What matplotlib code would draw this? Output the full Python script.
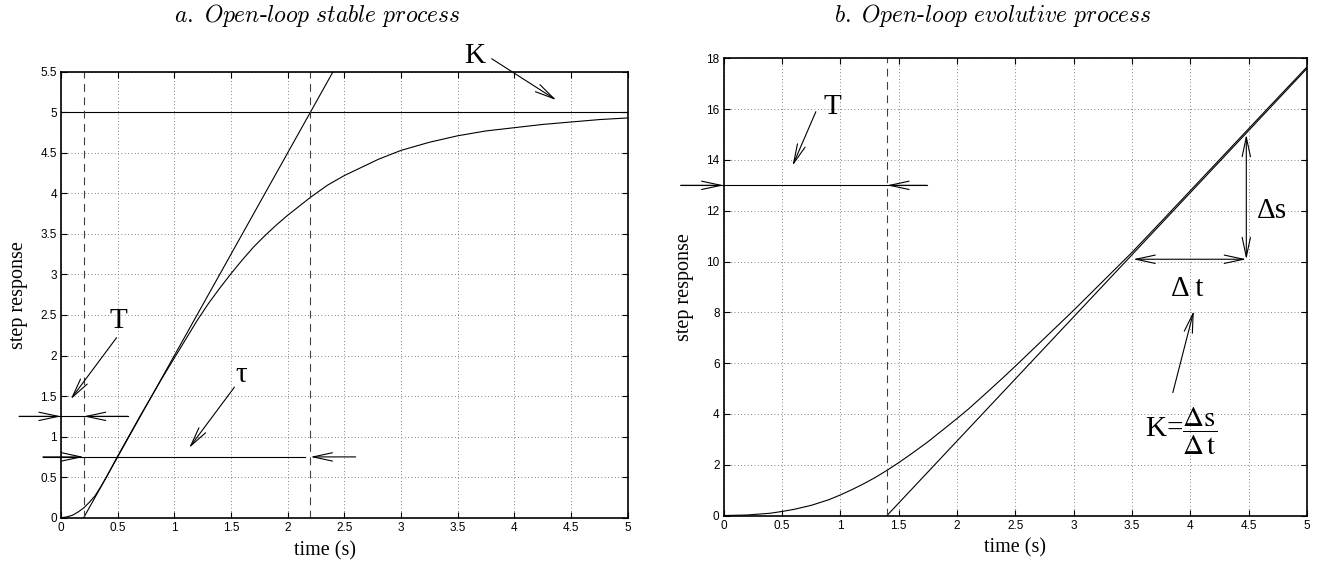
import matplotlib.pyplot as plt

# --- a. open-loop stable process
t_a = [0, 0.05, 0.1, 0.15, 0.2, 0.25, 0.3, 0.35, 0.4, 0.45, 0.5, 0.6, 0.7, 0.8, 0.9,
       1.0, 1.1, 1.2, 1.3, 1.4, 1.5, 1.6, 1.7, 1.8, 1.9, 2.0, 2.1, 2.2, 2.35, 2.5,
       2.65, 2.8, 3.0, 3.25, 3.5, 3.75, 4.0, 4.25, 4.5, 4.75, 5.0]
s_a = [0, 0.01, 0.03, 0.07, 0.12, 0.19, 0.27, 0.38, 0.50, 0.63, 0.76, 1.01, 1.26, 1.50, 1.74,
       1.97, 2.20, 2.43, 2.64, 2.83, 3.01, 3.18, 3.34, 3.48, 3.61, 3.73, 3.84, 3.95, 4.10, 4.22,
       4.32, 4.42, 4.53, 4.63, 4.71, 4.77, 4.81, 4.85, 4.88, 4.91, 4.93]
tangent_a_t = [0.2, 2.4]
tangent_a_s = [0, 5.5]
K_a = 5
T_a = 0.2
tau_end_a = 2.2

# --- b. open-loop evolutive process
t_b = [0, 0.2, 0.4, 0.5, 0.6, 0.75, 0.9, 1.0, 1.1, 1.2, 1.3, 1.4, 1.5, 1.6, 1.75, 1.9,
       2.0, 2.1, 2.25, 2.4, 2.5, 2.75, 3.0, 3.25, 3.5, 3.75, 4.0, 4.25, 4.5, 4.75, 5.0]
s_b = [0, 0.02, 0.09, 0.16, 0.24, 0.40, 0.62, 0.81, 1.02, 1.25, 1.50, 1.78, 2.08, 2.40, 2.90, 3.45,
       3.82, 4.20, 4.82, 5.45, 5.88, 6.98, 8.08, 9.22, 10.36, 11.57, 12.79, 14.01, 15.23, 16.45, 17.66]
tangent_b_t = [1.4, 5.0]
tangent_b_s = [0, 17.6]
T_b = 1.4

xticks = [0, 0.5, 1, 1.5, 2, 2.5, 3, 3.5, 4, 4.5, 5]
xticklabels = ['0', '0.5', '1', '1.5', '2', '2.5', '3', '3.5', '4', '4.5', '5']
yticks_a = [0, 0.5, 1, 1.5, 2, 2.5, 3, 3.5, 4, 4.5, 5, 5.5]
yticklabels_a = ['0', '0.5', '1', '1.5', '2', '2.5', '3', '3.5', '4', '4.5', '5', '5.5']
yticks_b = [0, 2, 4, 6, 8, 10, 12, 14, 16, 18]
yticklabels_b = ['0', '2', '4', '6', '8', '10', '12', '14', '16', '18']

serif = 'Liberation Serif'
big = 21
lw = 0.8

fig = plt.figure(figsize=(13.35, 5.67), dpi=100)
ax_a = fig.add_axes([0.0457, 0.0869, 0.4245, 0.7866])
ax_b = fig.add_axes([0.5421, 0.0908, 0.4369, 0.8063])


def style_axes(ax, yticks, yticklabels, ymax, xlabel_x=0.5):
    ax.set_xlim(0, 5)
    ax.set_ylim(0, ymax)
    ax.set_xticks(xticks)
    ax.set_xticklabels(xticklabels, family='Liberation Sans', fontsize=8.5)
    ax.set_yticks(yticks)
    ax.set_yticklabels(yticklabels, family='Liberation Sans', fontsize=8.5)
    ax.tick_params(direction='in', length=4, width=0.8, top=True, right=True, pad=3)
    ax.grid(True, linestyle=(0, (1, 3)), color='0.35', linewidth=0.6)
    for sp in ax.spines.values():
        sp.set_linewidth(1.2)
    ax.set_xlabel('time (s)', family=serif, fontsize=14.5, labelpad=5, x=xlabel_x)
    ax.set_ylabel('step response', family=serif, fontsize=14.5, labelpad=9)


def arrow(ax, start, tip, style='->', hl=1.4, hw=0.3):
    ax.annotate('', xy=tip, xytext=start, xycoords='data', textcoords='data',
                annotation_clip=False,
                arrowprops=dict(arrowstyle=f'{style},head_length={hl},head_width={hw}',
                                color='black', lw=lw, shrinkA=0, shrinkB=0,
                                mutation_scale=10))


# ---------------- left panel
ax = ax_a
style_axes(ax, yticks_a, yticklabels_a, 5.5, xlabel_x=0.466)
ax.plot(t_a, s_a, color='black', lw=lw)
ax.plot(tangent_a_t, tangent_a_s, color='black', lw=lw)
ax.axhline(K_a, color='black', lw=lw)
for x in (T_a, tau_end_a):
    ax.axvline(x, color='0.25', lw=lw, linestyle=(0, (7, 5)))

# T marker at 1.25
ax.plot([-0.37, 0.59], [1.25, 1.25], color='black', lw=lw, clip_on=False)
arrow(ax, (-0.37, 1.25), (0, 1.25))
arrow(ax, (0.59, 1.25), (T_a, 1.25))
ax.text(0.51, 2.42, 'T', family=serif, fontsize=big, ha='center', va='center')
arrow(ax, (0.49, 2.22), (0.085, 1.46))

# tau marker at 0.75
ax.plot([-0.16, 2.15], [0.75, 0.75], color='black', lw=lw, clip_on=False)
arrow(ax, (-0.16, 0.75), (T_a, 0.75))
arrow(ax, (2.6, 0.75), (tau_end_a, 0.75))
ax.text(1.59, 1.76, 'τ', family=serif, fontsize=big, ha='center', va='center')
arrow(ax, (1.53, 1.61), (1.13, 0.86))

# K
ax.text(3.65, 5.69, 'K', family=serif, fontsize=big, ha='center', va='center')
arrow(ax, (3.80, 5.66), (4.37, 5.15))

# ---------------- right panel
ax = ax_b
style_axes(ax, yticks_b, yticklabels_b, 18)
ax.plot(t_b, s_b, color='black', lw=lw)
ax.plot(tangent_b_t, tangent_b_s, color='black', lw=lw)
ax.axvline(T_b, color='0.25', lw=lw, linestyle=(0, (7, 5)))

ax.plot([-0.37, 1.74], [13, 13], color='black', lw=lw, clip_on=False)
arrow(ax, (-0.37, 13), (0, 13))
arrow(ax, (1.74, 13), (T_b, 13))
ax.text(0.93, 16.1, 'T', family=serif, fontsize=big, ha='center', va='center')
arrow(ax, (0.79, 15.9), (0.59, 13.77))

arrow(ax, (4.48, 10.08), (4.48, 15.0), style='<->')
arrow(ax, (3.51, 10.09), (4.48, 10.09), style='<->')
ax.text(4.70, 12.0, 'Δs', family=serif, fontsize=big, ha='center', va='center')
ax.text(3.97, 8.9, 'Δ t', family=serif, fontsize=big, ha='center', va='center')
ax.text(3.92, 3.3, r'K=$\dfrac{\Delta\mathrm{s}}{\Delta\,\mathrm{t}}$', family=serif,
        fontsize=big, ha='center', va='center', math_fontfamily='stix')
arrow(ax, (3.85, 4.84), (4.03, 8.06))

# titles
fig.text(317.5 / 1335, 0.9735, r'$\mathit{a.\ Open}$-$\mathit{loop\ stable\ process}$',
         family='cmr10', math_fontfamily='cm', fontsize=17, ha='center', va='center')
fig.text(993 / 1335, 0.9735, r'$\mathit{b.\ Open}$-$\mathit{loop\ evolutive\ process}$',
         family='cmr10', math_fontfamily='cm', fontsize=17, ha='center', va='center')

fig.savefig('out.png', dpi=100)
